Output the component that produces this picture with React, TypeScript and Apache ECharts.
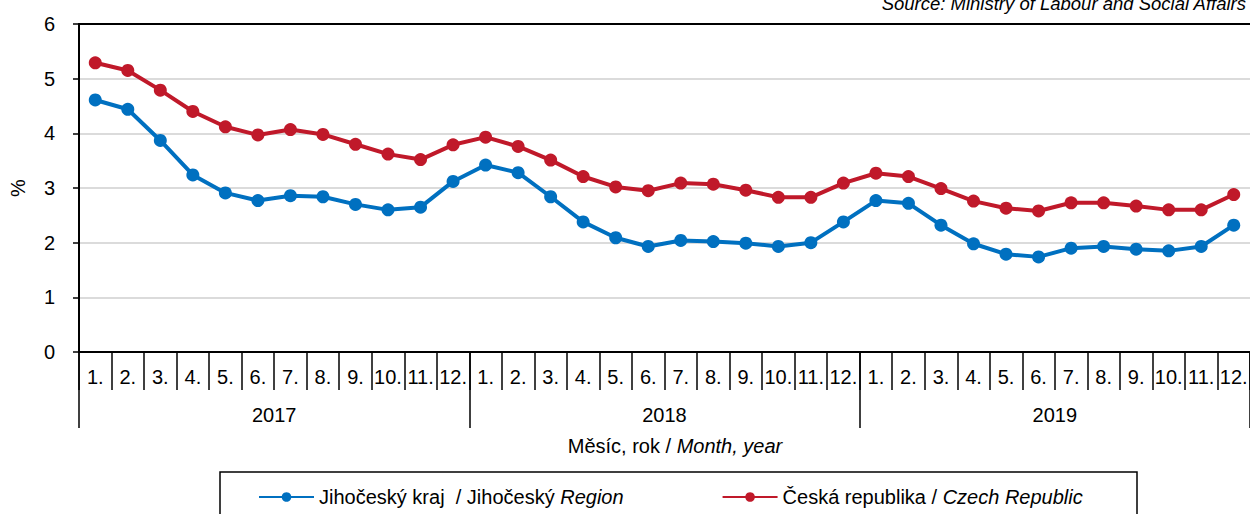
import React, { useEffect, useRef } from "react";
import * as echarts from "echarts";

const months = ["1.", "2.", "3.", "4.", "5.", "6.", "7.", "8.", "9.", "10.", "11.", "12."];
const years = ["2017", "2018", "2019"];
const monthCategories = [...months, ...months, ...months];

const jihoceskyName = "Jihočeský kraj / Jihočeský Region";
const czechName = "Česká republika / Czech Republic";

const jihocesky = [
  4.61, 4.44, 3.87, 3.24, 2.91, 2.77, 2.86, 2.84, 2.70, 2.60, 2.65, 3.12,
  3.42, 3.28, 2.84, 2.38, 2.09, 1.93, 2.04, 2.02, 1.99, 1.93, 2.00, 2.38,
  2.77, 2.72, 2.32, 1.98, 1.79, 1.74, 1.90, 1.93, 1.88, 1.85, 1.93, 2.32,
];
const czech = [
  5.29, 5.15, 4.79, 4.40, 4.12, 3.97, 4.07, 3.98, 3.80, 3.62, 3.52, 3.79,
  3.93, 3.76, 3.51, 3.21, 3.02, 2.95, 3.09, 3.07, 2.96, 2.83, 2.83, 3.09,
  3.27, 3.21, 2.99, 2.76, 2.63, 2.58, 2.73, 2.73, 2.67, 2.60, 2.60, 2.88,
];

const FONT = "'Liberation Sans', Arial, Helvetica, sans-serif";
const BLUE = "#0070C0";
const RED = "#C0192A";

export default function App() {
  const ref = useRef<HTMLDivElement>(null);
  useEffect(() => {
    if (!ref.current) return;
    const chart = echarts.init(ref.current, null, { renderer: "svg" });
    const option: any = {
      animation: false,
      backgroundColor: "#ffffff",
      textStyle: { fontFamily: FONT },
      grid: {
        left: 79,
        right: 0,
        top: 24,
        bottom: 162,
        containLabel: false,
        outerBoundsMode: "none",
      },
      legend: {
        left: 258,
        top: 487,
        padding: 0,
        itemWidth: 55,
        itemHeight: 12,
        itemGap: 98,
        itemTextGap: 11,
        data: [jihoceskyName, czechName],
        formatter: (name: string) =>
          name === jihoceskyName
            ? "{n|Jihočeský kraj  / Jihočeský }{i|Region}"
            : "{n|Česká republika / }{i|Czech Republic}",
        textStyle: {
          fontSize: 20,
          color: "#000",
          fontFamily: FONT,
          rich: {
            n: { fontSize: 20, color: "#000", fontFamily: FONT },
            i: { fontSize: 20, color: "#000", fontFamily: FONT, fontStyle: "italic" },
          },
        },
      },
      xAxis: [
        {
          type: "category",
          position: "bottom",
          offset: 0,
          data: monthCategories,
          boundaryGap: true,
          axisLine: { show: true, lineStyle: { color: "#000", width: 2 } },
          axisTick: { show: true, interval: 0, length: 38, lineStyle: { color: "#000", width: 1.5 } },
          axisLabel: {
            interval: 0,
            hideOverlap: false,
            margin: 15,
            fontSize: 20,
            lineHeight: 20,
            color: "#000",
            fontFamily: FONT,
          },
          splitLine: { show: false },
        },
        {
          type: "category",
          position: "bottom",
          offset: 0,
          data: years,
          boundaryGap: true,
          axisLine: { show: false },
          axisTick: { show: true, interval: 0, length: 76, lineStyle: { color: "#000", width: 1.5 } },
          axisLabel: {
            interval: 0,
            margin: 53,
            fontSize: 20,
            lineHeight: 20,
            color: "#000",
            fontFamily: FONT,
          },
          splitLine: { show: false },
        },
        {
          type: "category",
          position: "top",
          data: monthCategories,
          axisLine: { show: true, lineStyle: { color: "#000", width: 2 } },
          axisTick: { show: false },
          axisLabel: { show: false },
          splitLine: { show: false },
        },
      ],
      yAxis: {
        type: "value",
        min: 0,
        max: 6,
        interval: 1,
        name: "%",
        nameLocation: "middle",
        nameGap: 51,
        nameRotate: 90,
        nameTextStyle: { fontSize: 20, color: "#000", fontFamily: FONT },
        axisLine: { show: true, lineStyle: { color: "#000", width: 2 } },
        axisTick: { show: true, length: 6, lineStyle: { color: "#000", width: 1.5 } },
        axisLabel: { margin: 24, fontSize: 20, color: "#000", fontFamily: FONT },
        splitLine: { show: true, lineStyle: { color: "#cfcfcf", width: 1.5 } },
      },
      series: [
        {
          name: jihoceskyName,
          type: "line",
          xAxisIndex: 0,
          data: jihocesky,
          symbol: "circle",
          symbolSize: 13,
          lineStyle: { color: BLUE, width: 4 },
          itemStyle: { color: BLUE },
          z: 3,
        },
        {
          name: czechName,
          type: "line",
          xAxisIndex: 0,
          data: czech,
          symbol: "circle",
          symbolSize: 13,
          lineStyle: { color: RED, width: 4 },
          itemStyle: { color: RED },
          z: 3,
        },
      ],
      graphic: [
        {
          type: "text",
          x: 1246,
          y: 3,
          style: {
            text: "Source: Ministry of Labour and Social Affairs",
            font: `italic 18.5px ${FONT}`,
            fill: "#000",
            align: "right",
            verticalAlign: "middle",
          },
        },
        {
          type: "text",
          x: 675,
          y: 446,
          style: {
            text: "{n|Měsíc, rok / }{i|Month, year}",
            align: "center",
            verticalAlign: "middle",
            fill: "#000",
            rich: {
              n: { fontSize: 20, fontFamily: FONT, fill: "#000" },
              i: { fontSize: 20, fontFamily: FONT, fontStyle: "italic", fill: "#000" },
            },
          },
        },
        {
          type: "rect",
          shape: { x: 220, y: 472, width: 917, height: 60 },
          style: { fill: "none", stroke: "#000", lineWidth: 1.5 },
          silent: true,
        },
      ],
    };
    chart.setOption(option);
    return () => chart.dispose();
  }, []);
  return (
    <div
      ref={ref}
      style={{ position: "fixed", left: 0, top: 0, width: 1250, height: 514, background: "#fff" }}
    />
  );
}
